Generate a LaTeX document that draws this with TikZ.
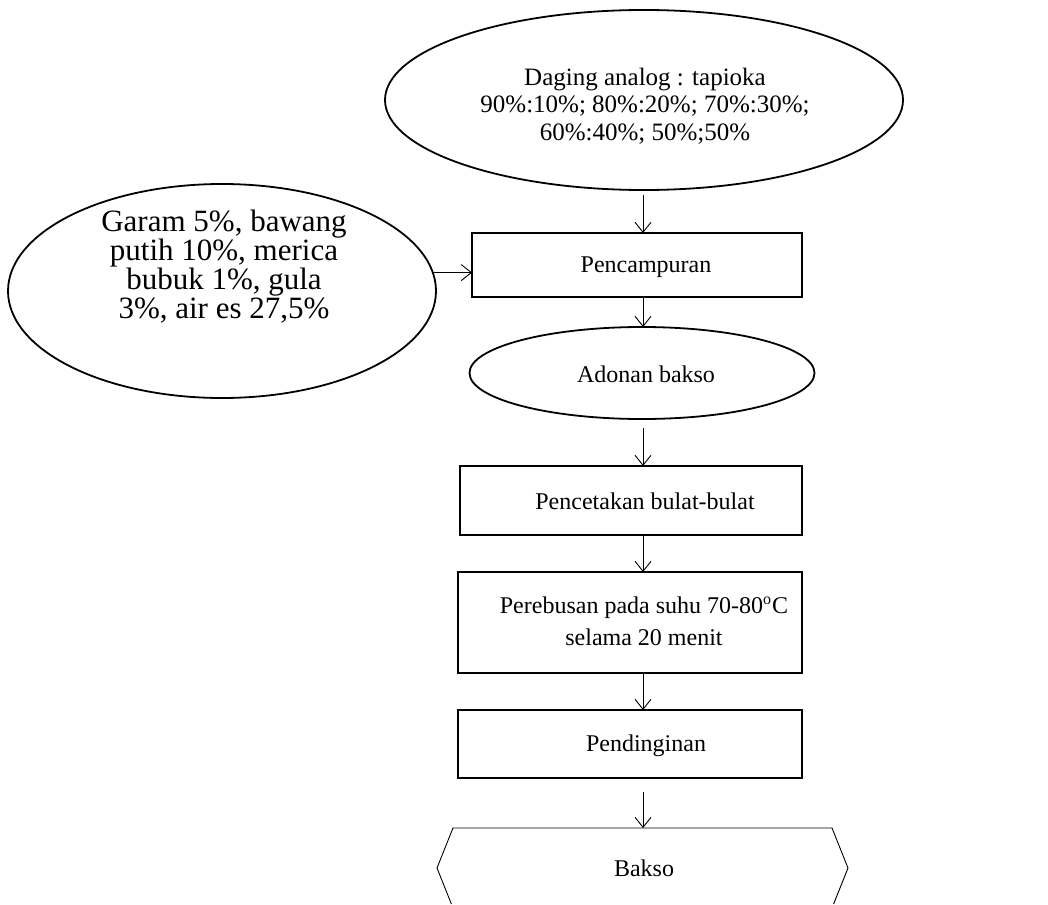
\documentclass[tikz,border=0pt]{standalone}
\usepackage{fontspec}
\setmainfont{Liberation Serif}
\usetikzlibrary{arrows.meta,shapes.geometric}
\begin{document}
\begin{tikzpicture}[x=0.5pt,y=-0.5pt,
  every node/.style={font=\fontsize{12}{15}\selectfont, inner sep=0pt, outer sep=0pt},
  proc/.style={draw, line width=0.9pt, rectangle},
  oval/.style={draw, line width=0.9pt, ellipse},
  lbl/.style={align=center},
  arr/.style={line width=0.45pt, -{Straight Barb[length=5pt,width=8pt,line width=0.45pt]}},
  term/.style={line width=0.45pt},
]
\useasboundingbox (0,0) rectangle (1048,904);
\coordinate (col) at (643,0);

% shapes
\node[oval, minimum width=259pt, minimum height=90pt] (top) at (644,100) {};
\node[oval, minimum width=214pt, minimum height=107pt] (left) at (222,291) {};
\node[proc, minimum width=165pt, minimum height=32pt] (mix) at (637,265) {};
\node[oval, minimum width=172.5pt, minimum height=46pt] (adonan) at (642,373) {};
\node[proc, minimum width=171pt, minimum height=34.5pt] (cetak) at (631,500.5) {};
\node[proc, minimum width=172pt, minimum height=50.5pt] (rebus) at (630,622.5) {};
\node[proc, minimum width=172pt, minimum height=34pt] (dingin) at (630,744) {};
\draw[term] (451.4,904) -- (437,868) -- (453,828) -- (832,828) -- (848,868) -- (833.6,904);
\coordinate (baksotop) at (643,828);

% texts
\node[lbl, font=\fontsize{12.5}{13.8}\selectfont] (topT) at (645,106)
  {Daging analog : tapioka\\90\%:10\%; 80\%:20\%; 70\%:30\%;\\60\%:40\%; 50\%;50\%};
\node[lbl, font=\fontsize{15.5}{14.5}\selectfont] (leftT) at (224,267)
  {Garam 5\%, bawang\\putih 10\%, merica\\bubuk 1\%, gula\\3\%, air es 27,5\%};
\node (mixT) at (646,267) {Pencampuran};
\node (adonanT) at (646,374) {Adonan bakso};
\node (cetakT) at (645,501) {Pencetakan bulat-bulat};
\node[lbl, font=\fontsize{12}{16}\selectfont] (rebusT) at (644,621)
  {Perebusan pada suhu 70-80\textsuperscript{o}C\\selama 20 menit};
\node (dinginT) at (646,746) {Pendinginan};
\node (bakso) at (644,868) {Bakso};

% connectors
\draw[arr] ([yshift=-2.5pt]top.south -| col) -- (mix.north -| col);
\draw[arr] (left.5) -- (left.5 -| mix.west);
\draw[arr] (mix.south -| col) -- (adonan.north -| col);
\draw[arr] ([yshift=-4.5pt]adonan.south -| col) -- (cetak.north -| col);
\draw[arr] (cetak.south -| col) -- (rebus.north -| col);
\draw[arr] (rebus.south -| col) -- (dingin.north -| col);
\draw[arr] ([yshift=-7pt]dingin.south -| col) -- (baksotop);
\end{tikzpicture}
\end{document}
